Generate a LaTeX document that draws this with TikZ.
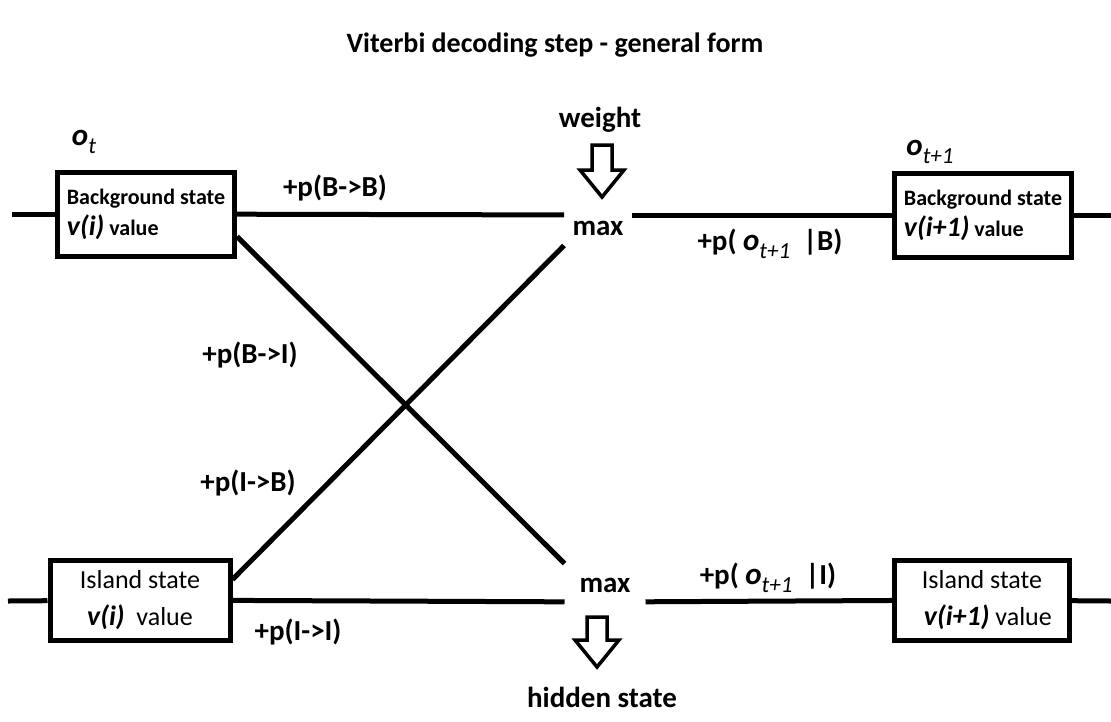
\documentclass[tikz,border=0pt]{standalone}
\usepackage{fontspec}
\setmainfont{Carlito}
\usetikzlibrary{positioning}

\newcommand{\vval}[1]{{\fontsize{28}{30}\selectfont\bfseries\itshape v(#1)}}
\newcommand{\obs}[1]{{\fontsize{31}{32}\selectfont\bfseries\itshape o}\raisebox{-8pt}{\fontsize{23}{24}\selectfont\mdseries\itshape #1}}

\begin{document}
\begin{tikzpicture}[x=1pt, y=-1pt, line width=5pt,
  every node/.style={font=\fontsize{29}{32}\selectfont\bfseries},
  statebox/.style={draw, line width=5pt, inner sep=0pt, minimum width=177, minimum height=84},
  gate/.style={inner sep=0pt, minimum width=63, minimum height=56},
  hollow/.style={draw, line width=3.5pt, line join=miter}]
\path[use as bounding box] (0,0) rectangle (1111,721);
\node (title) at (555,45) {\fontsize{28}{30}\selectfont Viterbi decoding step - general form};
% states at time t and t+1
\node[statebox, align=left, font=\fontsize{22}{31}\selectfont\bfseries] (B0) at (146,214) {Background state\\\vval{i} value};
\node[statebox, align=left, font=\fontsize{22}{31}\selectfont\bfseries] (B1) at (983,215) {Background state\\\vval{i+1} value};
\node[statebox, minimum width=180, minimum height=80, align=center, font=\fontsize{26}{37}\selectfont] (I0) at (140,600) {Island state\\\vval{i}\ \ value};
\node[statebox, minimum width=175, minimum height=80, align=center, font=\fontsize{26}{37}\selectfont] (I1) at (982,600) {Island state\\\ \ \vval{i+1} value};
\node (ot) at (84,142) {\obs{t}};
\node (ot1) at (930,152) {\obs{t+1}};
% max gates
\node[gate, label={[yshift=-13pt]center:max}] (maxB) at (598,215) {};
\node[gate, minimum width=76, minimum height=72, label={[yshift=17pt]center:max}] (maxI) at (605,602) {};
\coordinate (wArrow) at (602,171);
\coordinate (hArrow) at (597,642);
\draw[hollow] (wArrow) ++(-10,-26) -- ++(20,0) -- ++(0,25) -- ++(12,0) -- ++(-22,27) -- ++(-22,-27) -- ++(12,0) -- cycle;
\draw[hollow] (hArrow) ++(-10,-25) -- ++(20,0) -- ++(0,23) -- ++(12,0) -- ++(-22,27) -- ++(-22,-27) -- ++(12,0) -- cycle;
\node (weight) at (600,120) {weight};
\node (hidden) at (602,697) {hidden state};
% free line ends
\coordinate (inB) at (12,214);
\coordinate (outB) at (1111,215);
\coordinate (inI) at (8,601);
\coordinate (outI) at (1111,601);
\draw (inB) -- (B0);
\draw (B0) -- (maxB);
\draw (maxB) -- (B1);
\draw (B1) -- (outB);
\draw (inI) -- (I0);
\draw (I0) -- (maxI);
\draw (maxI) -- (I1);
\draw (I1) -- (outI);
\draw ([yshift=22pt]B0.south east) -- (maxI.north west);
\draw ([yshift=-22pt]I0.north east) -- (maxB.south west);
% transition and emission labels
\node (pBB) at (335,188) {+p(B->B)};
\node (pBI) at (250,355) {+p(B->I)};
\node (pIB) at (248,483) {+p(I->B)};
\node (pII) at (298,632) {+p(I->I)};
\node (eB) at (770,244) {+p( \obs{t+1}\ \ |B)};
\node (eI) at (768,578) {+p( \obs{t+1}\ \ |I)};
\end{tikzpicture}
\end{document}
